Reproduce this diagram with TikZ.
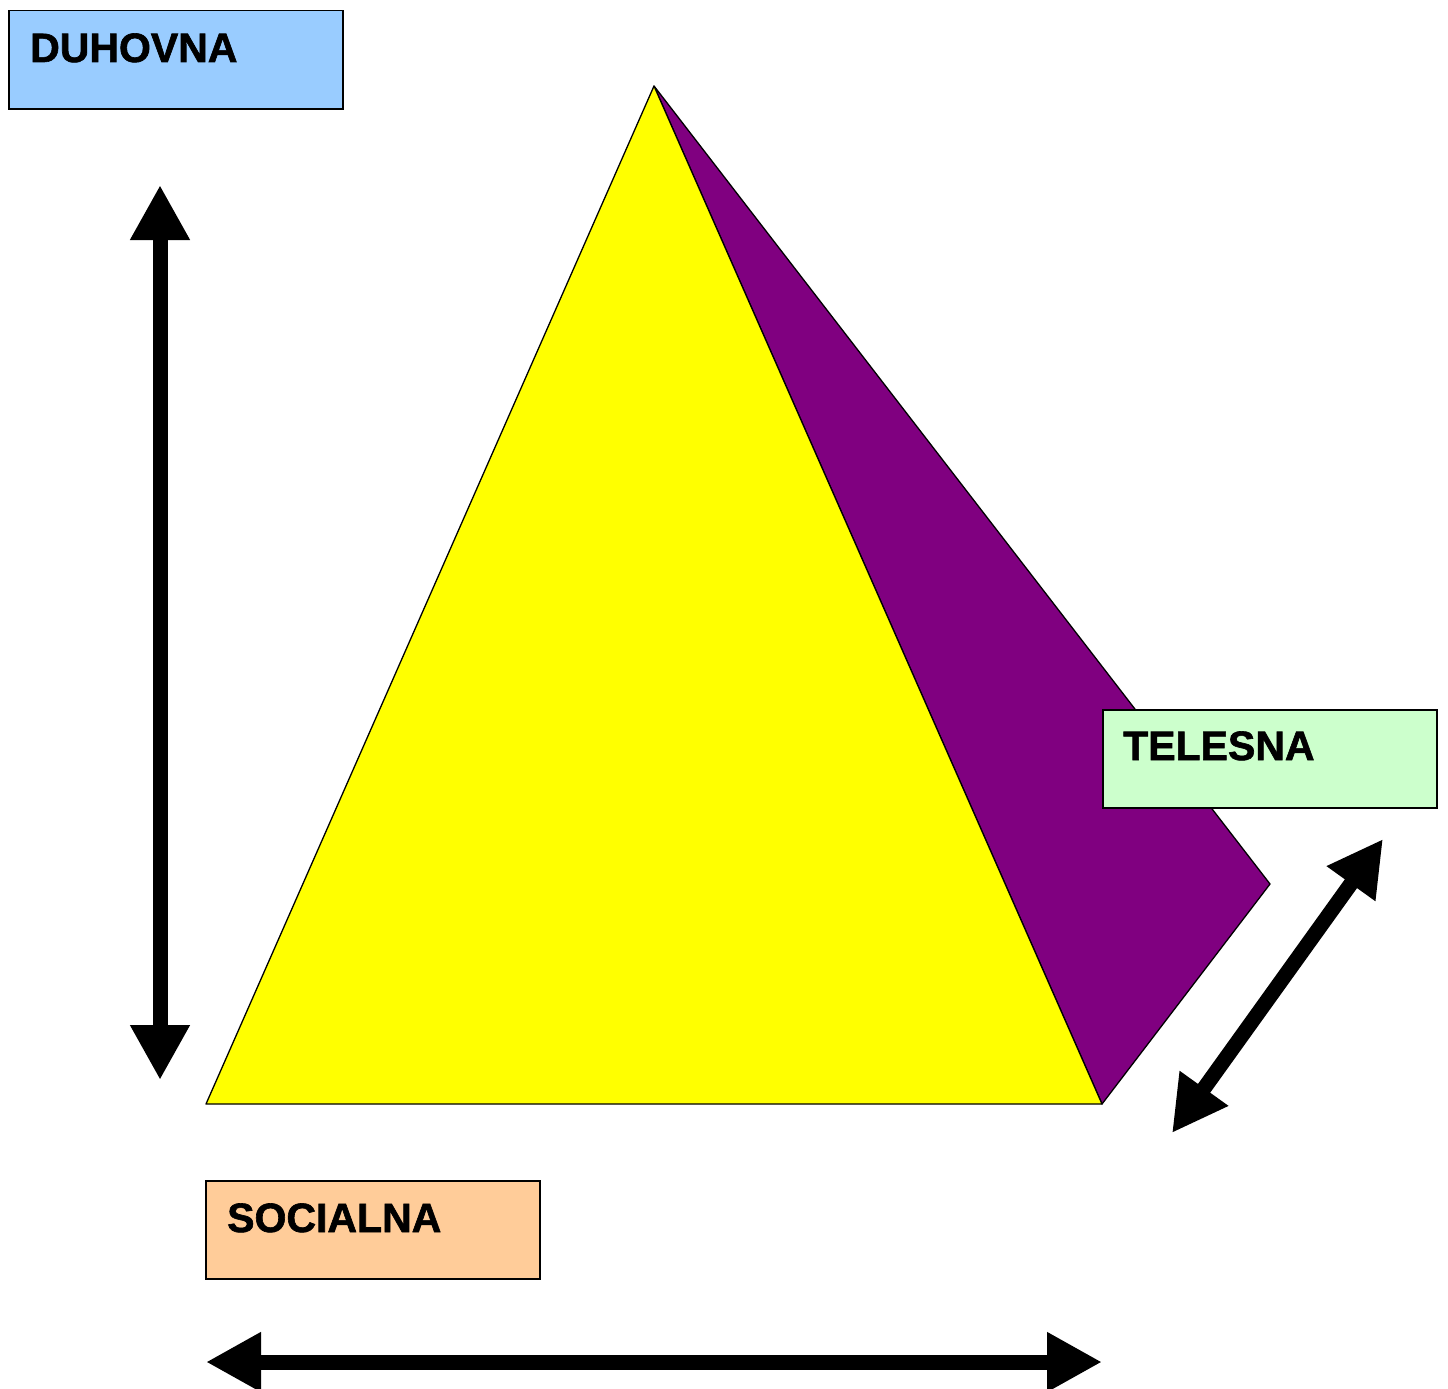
\documentclass[tikz,border=0pt]{standalone}
\usepackage{fontspec}
\setmainfont{Liberation Sans}
\newfontfamily\heavyfont[FakeBold=1.5]{Liberation Sans Bold}
\usetikzlibrary{arrows.meta,calc}
\definecolor{cblue}{HTML}{99CCFF}
\definecolor{cgreen}{HTML}{CCFFCC}
\definecolor{corange}{HTML}{FFCC99}
\definecolor{cyellow}{HTML}{FFFF00}
\definecolor{cpurple}{HTML}{800080}
\tikzset{
  box/.style={draw=black, line width=1.5pt, rectangle, minimum width=334pt, minimum height=98pt, inner sep=0pt, anchor=north west},
  lbl/.style={font=\heavyfont\fontsize{41}{41}\selectfont, inner sep=0pt, anchor=base west},
  face/.style={draw=black, line width=1.3pt, line join=round},
  dbl/.style={line width=15pt, {Triangle[length=55pt,width=56pt]}-{Triangle[length=55pt,width=56pt]}}
}
\begin{document}
\begin{tikzpicture}[x=1pt,y=-1pt]
\useasboundingbox (0,0) rectangle (1448,1389);
% pyramid
\coordinate (apex) at (654,86);
\coordinate (bl) at (206,1104);
\coordinate (br) at (1102,1104);
\coordinate (back) at (1270,884);
\filldraw[face, fill=cpurple] (apex) -- (back) -- (br) -- cycle;
\filldraw[face, fill=cyellow] (apex) -- (bl) -- (br) -- cycle;
% boxes
\node[box, fill=cblue] (duh) at (8,10) {};
\node[lbl] (duht) at ($(duh.north west)+(22,52)$) {DUHOVNA};
\node[box, fill=cgreen] (tel) at (1102,709) {};
\node[lbl] (telt) at ($(tel.north west)+(21,51)$) {TELESNA};
\node[box, fill=corange] (soc) at (205,1180) {};
\node[lbl] (soct) at ($(soc.north west)+(22,52)$) {SOCIALNA};
% arrows
\coordinate (v1) at (160,185);
\coordinate (v2) at (160,1080);
\draw[dbl] (v1) -- (v2);
\coordinate (h1) at (206,1362);
\coordinate (h2) at (1102,1362);
\draw[dbl] (h1) -- (h2);
\coordinate (d1) at (1172,1133);
\coordinate (d2) at (1383,839);
\draw[dbl] (d1) -- (d2);
\end{tikzpicture}
\end{document}
